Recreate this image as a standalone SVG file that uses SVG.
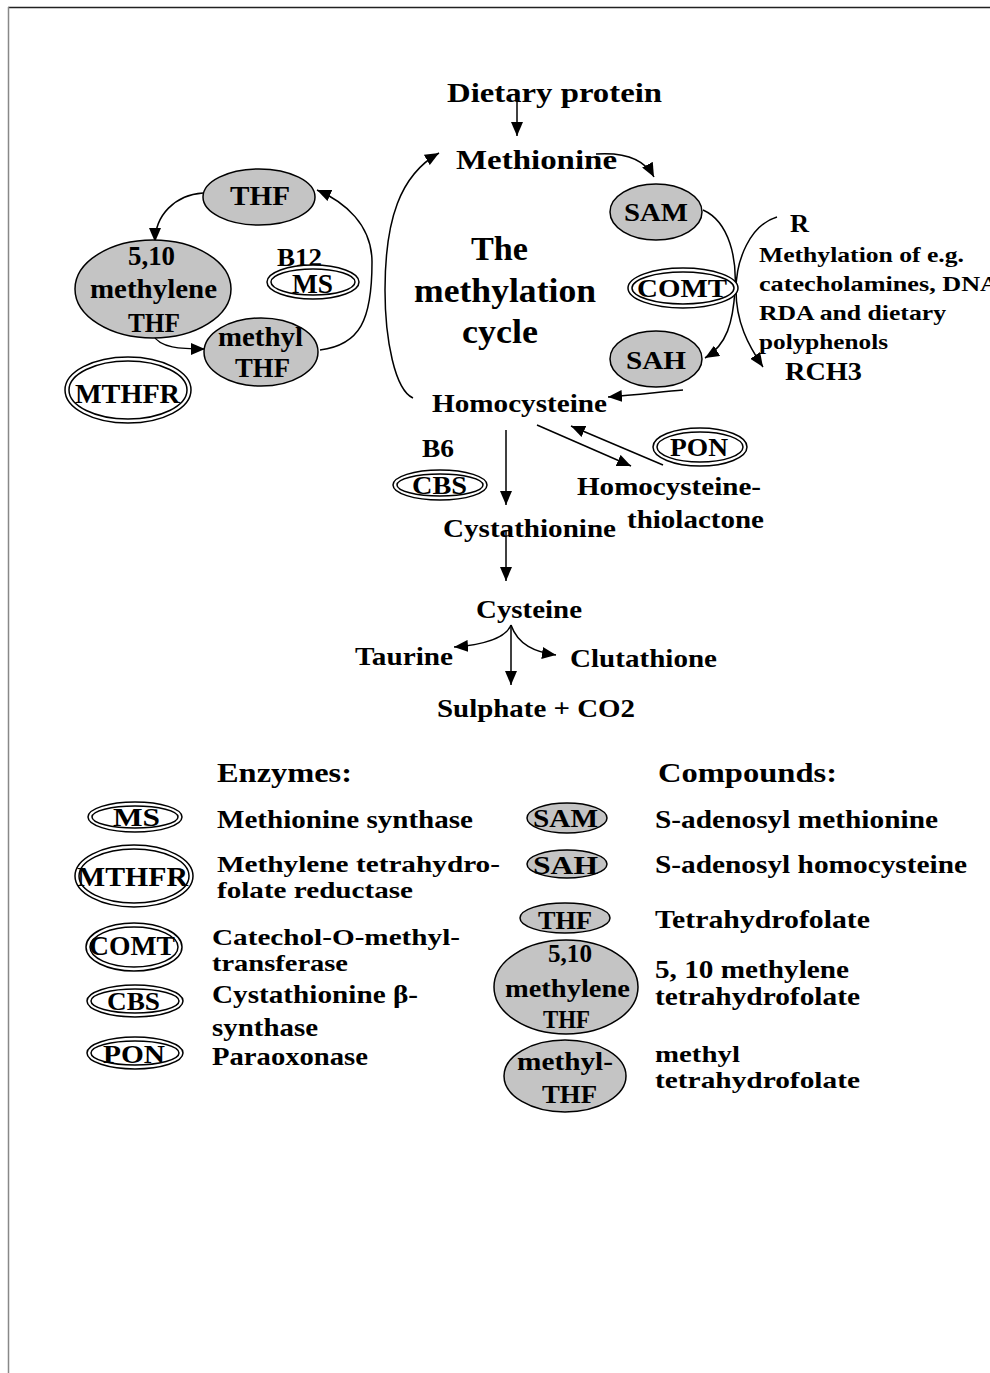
<svg xmlns="http://www.w3.org/2000/svg" width="990" height="1373" viewBox="0 0 990 1373">
<style>
text{font-family:"Liberation Serif","Times New Roman",serif;font-weight:bold;fill:#000}
.c{fill:#c4c4c4;stroke:#000;stroke-width:1.5}
.e{fill:#fff;stroke:#000;stroke-width:1.5}
.ei{fill:none;stroke:#000;stroke-width:1.5}
.ln{fill:none;stroke:#000;stroke-width:1.5}
.f26{font-size:27px}.f24{font-size:26px}.f23{font-size:23px}.f20{font-size:21px}.f32{font-size:34px}
</style>
<defs>
<marker id="ah" viewBox="0 0 14 12" refX="14" refY="6" markerWidth="14" markerHeight="12" orient="auto" markerUnits="userSpaceOnUse"><path d="M0,0 L14,6 L0,12 z" fill="#000"/></marker>
</defs>
<rect x="0" y="0" width="990" height="1373" fill="#fff"/>
<line x1="8" y1="7.5" x2="990" y2="7.5" stroke="#222" stroke-width="1.5"/>
<line x1="8.5" y1="7" x2="8.5" y2="1373" stroke="#888" stroke-width="1.5"/>

<g id="connectors">
<path class="ln" marker-end="url(#ah)" d="M517,93 L517,136"/>
<path class="ln" marker-end="url(#ah)" d="M596,154 C625,152 645,160 654,177"/>
<path class="ln" marker-end="url(#ah)" d="M703,210 C730,222 737,260 735,290 C733,322 727,345 705,358"/>
<path class="ln" marker-end="url(#ah)" d="M777,217 C750,225 736,260 736,290 C736,322 748,345 763,367"/>
<path class="ln" marker-end="url(#ah)" d="M683,390 C660,392 635,395 608,397"/>
<path class="ln" marker-end="url(#ah)" d="M413,398 C395,390 385,340 385,290 C385,220 400,175 439,153"/>
<path class="ln" marker-end="url(#ah)" d="M506,430 L506,505"/>
<path class="ln" marker-end="url(#ah)" d="M537,425 L631,466"/>
<path class="ln" marker-end="url(#ah)" d="M663,465 L571,426"/>
<path class="ln" marker-end="url(#ah)" d="M506,530 L506,581"/>
<path class="ln" marker-end="url(#ah)" d="M511,625 C505,640 480,645 454,647"/>
<path class="ln" marker-end="url(#ah)" d="M511,625 C518,645 535,652 556,655"/>
<path class="ln" marker-end="url(#ah)" d="M511,625 L511,685"/>
<path class="ln" marker-end="url(#ah)" d="M203,193 C175,195 155,215 155,242"/>
<path class="ln" marker-end="url(#ah)" d="M153,335 C160,348 180,349 205,349"/>
<path class="ln" marker-end="url(#ah)" d="M320,350 C360,345 372,320 372,262 C372,225 345,202 317,190"/>
</g>

<g id="dietary-protein"><text class="f26" x="447" y="102" textLength="215" lengthAdjust="spacingAndGlyphs">Dietary protein</text></g>
<g id="methionine"><text class="f26" x="456" y="169" textLength="161" lengthAdjust="spacingAndGlyphs">Methionine</text></g>
<g id="title">
<text class="f32"><tspan x="471" y="260" textLength="57" lengthAdjust="spacingAndGlyphs">The</tspan><tspan x="414" y="302" textLength="182" lengthAdjust="spacingAndGlyphs">methylation</tspan><tspan x="462" y="343" textLength="76" lengthAdjust="spacingAndGlyphs">cycle</tspan></text>
</g>
<g id="SAM"><ellipse class="c" cx="656" cy="212" rx="46" ry="28"/><text class="f24" x="624" y="221" textLength="64" lengthAdjust="spacingAndGlyphs">SAM</text></g>
<g id="COMT"><ellipse class="e" cx="683" cy="288" rx="55" ry="20"/><ellipse class="ei" cx="683" cy="288" rx="51" ry="16"/><text class="f24" x="637" y="297" textLength="90" lengthAdjust="spacingAndGlyphs">COMT</text></g>
<g id="SAH"><ellipse class="c" cx="656" cy="359" rx="46" ry="28"/><text class="f24" x="626" y="369" textLength="60" lengthAdjust="spacingAndGlyphs">SAH</text></g>
<g id="R"><text class="f24" x="790" y="232" textLength="19" lengthAdjust="spacingAndGlyphs">R</text></g>
<g id="methylation-note">
<text class="f20"><tspan x="759" y="262" textLength="205" lengthAdjust="spacingAndGlyphs">Methylation of e.g.</tspan><tspan x="759" y="291" textLength="240" lengthAdjust="spacingAndGlyphs">catecholamines, DNA</tspan><tspan x="759" y="320" textLength="187" lengthAdjust="spacingAndGlyphs">RDA and dietary</tspan><tspan x="759" y="349" textLength="129" lengthAdjust="spacingAndGlyphs">polyphenols</tspan></text>
</g>
<g id="RCH3"><text class="f24" x="785" y="380" textLength="77" lengthAdjust="spacingAndGlyphs">RCH3</text></g>
<g id="homocysteine"><text class="f24" x="432" y="412" textLength="175" lengthAdjust="spacingAndGlyphs">Homocysteine</text></g>

<g id="THF"><ellipse class="c" cx="259" cy="197" rx="56" ry="28"/><text class="f26" x="230" y="205" textLength="60" lengthAdjust="spacingAndGlyphs">THF</text></g>
<g id="methylene-THF"><ellipse class="c" cx="153" cy="289" rx="78" ry="49"/>
<text class="f26"><tspan x="128" y="265" textLength="47" lengthAdjust="spacingAndGlyphs">5,10</tspan><tspan x="90" y="298" textLength="127" lengthAdjust="spacingAndGlyphs">methylene</tspan><tspan x="128" y="332" textLength="52" lengthAdjust="spacingAndGlyphs">THF</tspan></text></g>
<g id="B12"><text class="f24" x="277" y="266" textLength="45" lengthAdjust="spacingAndGlyphs">B12</text></g>
<g id="MS"><ellipse class="e" cx="313" cy="282" rx="46" ry="17"/><ellipse class="ei" cx="313" cy="282" rx="42" ry="13"/><text class="f26" x="292" y="293" textLength="41" lengthAdjust="spacingAndGlyphs">MS</text></g>
<g id="methyl-THF"><ellipse class="c" cx="261" cy="352" rx="57" ry="34"/>
<text class="f26"><tspan x="218" y="346" textLength="85" lengthAdjust="spacingAndGlyphs">methyl</tspan><tspan x="235" y="377" textLength="55" lengthAdjust="spacingAndGlyphs">THF</tspan></text></g>
<g id="MTHFR"><ellipse class="e" cx="128" cy="390" rx="63" ry="33"/><ellipse class="ei" cx="128" cy="390" rx="59" ry="29"/><text class="f26" x="75" y="403" textLength="105" lengthAdjust="spacingAndGlyphs">MTHFR</text></g>

<g id="B6"><text class="f24" x="422" y="457" textLength="32" lengthAdjust="spacingAndGlyphs">B6</text></g>
<g id="CBS"><ellipse class="e" cx="440" cy="485" rx="47" ry="15"/><ellipse class="ei" cx="440" cy="485" rx="43" ry="11"/><text class="f24" x="412" y="494" textLength="55" lengthAdjust="spacingAndGlyphs">CBS</text></g>
<g id="PON"><ellipse class="e" cx="700" cy="447" rx="47" ry="19"/><ellipse class="ei" cx="700" cy="447" rx="43" ry="15"/><text class="f24" x="670" y="456" textLength="58" lengthAdjust="spacingAndGlyphs">PON</text></g>
<g id="thiolactone">
<text class="f24"><tspan x="577" y="495" textLength="184" lengthAdjust="spacingAndGlyphs">Homocysteine-</tspan><tspan x="627" y="528" textLength="137" lengthAdjust="spacingAndGlyphs">thiolactone</tspan></text></g>
<g id="cystathionine"><text class="f24" x="443" y="537" textLength="173" lengthAdjust="spacingAndGlyphs">Cystathionine</text></g>
<g id="cysteine"><text class="f24" x="476" y="618" textLength="106" lengthAdjust="spacingAndGlyphs">Cysteine</text></g>
<g id="taurine"><text class="f24" x="355" y="665" textLength="98" lengthAdjust="spacingAndGlyphs">Taurine</text></g>
<g id="clutathione"><text class="f24" x="570" y="667" textLength="147" lengthAdjust="spacingAndGlyphs">Clutathione</text></g>
<g id="sulphate"><text class="f24" x="437" y="717" textLength="198" lengthAdjust="spacingAndGlyphs">Sulphate + CO2</text></g>

<g id="legend-enzymes">
<text class="f26" x="217" y="782" textLength="135" lengthAdjust="spacingAndGlyphs">Enzymes:</text>
<g id="legend-MS"><ellipse class="e" cx="135" cy="817" rx="47" ry="15"/><ellipse class="ei" cx="135" cy="817" rx="43" ry="11"/>
<text class="f24" x="113" y="826" textLength="47" lengthAdjust="spacingAndGlyphs">MS</text>
<text class="f24" x="217" y="828" textLength="256" lengthAdjust="spacingAndGlyphs">Methionine synthase</text></g>
<g id="legend-MTHFR"><ellipse class="e" cx="134" cy="876" rx="59" ry="31"/><ellipse class="ei" cx="134" cy="876" rx="55" ry="27"/>
<text class="f26" x="77" y="886" textLength="111" lengthAdjust="spacingAndGlyphs">MTHFR</text>
<text class="f23"><tspan x="217" y="872" textLength="283" lengthAdjust="spacingAndGlyphs">Methylene tetrahydro-</tspan><tspan x="217" y="898" textLength="196" lengthAdjust="spacingAndGlyphs">folate reductase</tspan></text></g>
<g id="legend-COMT"><ellipse class="e" cx="134" cy="947" rx="48" ry="24"/><ellipse class="ei" cx="134" cy="947" rx="44" ry="20"/>
<text class="f26" x="89" y="955" textLength="86" lengthAdjust="spacingAndGlyphs">COMT</text>
<text class="f23"><tspan x="212" y="945" textLength="248" lengthAdjust="spacingAndGlyphs">Catechol-O-methyl-</tspan><tspan x="212" y="971" textLength="136" lengthAdjust="spacingAndGlyphs">transferase</tspan></text></g>
<g id="legend-CBS"><ellipse class="e" cx="135" cy="1001" rx="48" ry="16"/><ellipse class="ei" cx="135" cy="1001" rx="44" ry="12"/>
<text class="f24" x="107" y="1010" textLength="53" lengthAdjust="spacingAndGlyphs">CBS</text>
<text class="f24"><tspan x="212" y="1003" textLength="206" lengthAdjust="spacingAndGlyphs">Cystathionine β-</tspan><tspan x="212" y="1036" textLength="106" lengthAdjust="spacingAndGlyphs">synthase</tspan></text></g>
<g id="legend-PON"><ellipse class="e" cx="135" cy="1053" rx="48" ry="16"/><ellipse class="ei" cx="135" cy="1053" rx="44" ry="12"/>
<text class="f24" x="103" y="1063" textLength="62" lengthAdjust="spacingAndGlyphs">PON</text>
<text class="f24" x="212" y="1065" textLength="156" lengthAdjust="spacingAndGlyphs">Paraoxonase</text></g>
</g>

<g id="legend-compounds">
<text class="f26" x="658" y="782" textLength="179" lengthAdjust="spacingAndGlyphs">Compounds:</text>
<g id="legend-SAM"><ellipse class="c" cx="567" cy="818" rx="40" ry="15"/>
<text class="f24" x="533" y="827" textLength="65" lengthAdjust="spacingAndGlyphs">SAM</text>
<text class="f24" x="655" y="828" textLength="283" lengthAdjust="spacingAndGlyphs">S-adenosyl methionine</text></g>
<g id="legend-SAH"><ellipse class="c" cx="567" cy="864" rx="40" ry="14"/>
<text class="f24" x="533" y="874" textLength="65" lengthAdjust="spacingAndGlyphs">SAH</text>
<text class="f24" x="655" y="873" textLength="312" lengthAdjust="spacingAndGlyphs">S-adenosyl homocysteine</text></g>
<g id="legend-THF"><ellipse class="c" cx="565" cy="918" rx="45" ry="15"/>
<text class="f24" x="538" y="929" textLength="54" lengthAdjust="spacingAndGlyphs">THF</text>
<text class="f24" x="655" y="928" textLength="215" lengthAdjust="spacingAndGlyphs">Tetrahydrofolate</text></g>
<g id="legend-methylene-THF"><ellipse class="c" cx="566" cy="987" rx="72" ry="47"/>
<text class="f24"><tspan x="548" y="962" textLength="44" lengthAdjust="spacingAndGlyphs">5,10</tspan><tspan x="505" y="997" textLength="125" lengthAdjust="spacingAndGlyphs">methylene</tspan><tspan x="543" y="1028" textLength="47" lengthAdjust="spacingAndGlyphs">THF</tspan></text>
<text class="f24"><tspan x="655" y="978" textLength="194" lengthAdjust="spacingAndGlyphs">5, 10 methylene</tspan><tspan x="655" y="1005" textLength="205" lengthAdjust="spacingAndGlyphs">tetrahydrofolate</tspan></text></g>
<g id="legend-methyl-THF"><ellipse class="c" cx="565" cy="1076" rx="61" ry="36"/>
<text class="f24"><tspan x="517" y="1070" textLength="96" lengthAdjust="spacingAndGlyphs">methyl-</tspan><tspan x="542" y="1103" textLength="55" lengthAdjust="spacingAndGlyphs">THF</tspan></text>
<text class="f23"><tspan x="655" y="1062" textLength="85" lengthAdjust="spacingAndGlyphs">methyl</tspan><tspan x="655" y="1088" textLength="205" lengthAdjust="spacingAndGlyphs">tetrahydrofolate</tspan></text></g>
</g>
</svg>
